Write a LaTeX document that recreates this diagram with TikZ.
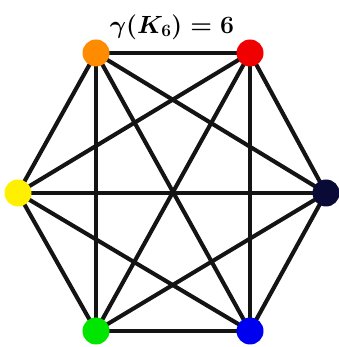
\documentclass[tikz,border=0pt]{standalone}
\definecolor{cO}{RGB}{255,140,0}
\definecolor{cR}{RGB}{240,0,0}
\definecolor{cY}{RGB}{255,240,0}
\definecolor{cN}{RGB}{10,10,55}
\definecolor{cG}{RGB}{0,230,0}
\definecolor{cB}{RGB}{0,0,240}
\begin{document}
\begin{tikzpicture}[x=1pt,y=1pt]
\tikzset{vert/.style={circle,inner sep=0pt,minimum size=27pt},
  edge/.style={line width=4.1pt,draw=black!92},
  ttl/.style={font=\fontsize{23}{27}\selectfont\boldmath}}
\useasboundingbox (0,0) rectangle (338,347);
\coordinate (o) at (96,294);
\coordinate (r) at (250,294);
\coordinate (y) at (18,154);
\coordinate (n) at (326,154);
\coordinate (g) at (96,16);
\coordinate (b) at (250,16);
\foreach \p/\q in {o/r,o/y,o/n,o/g,o/b,r/y,r/n,r/g,r/b,y/n,y/g,y/b,n/g,n/b,g/b}
  \draw[edge] (\p) -- (\q);
\node[vert,fill=cO] (vo) at (o) {};
\node[vert,fill=cR] (vr) at (r) {};
\node[vert,fill=cY] (vy) at (y) {};
\node[vert,fill=cN] (vn) at (n) {};
\node[vert,fill=cG] (vg) at (g) {};
\node[vert,fill=cB] (vb) at (b) {};
\node[ttl] (title) at (172,320) {$\gamma(K_6)=6$};
\end{tikzpicture}
\end{document}
